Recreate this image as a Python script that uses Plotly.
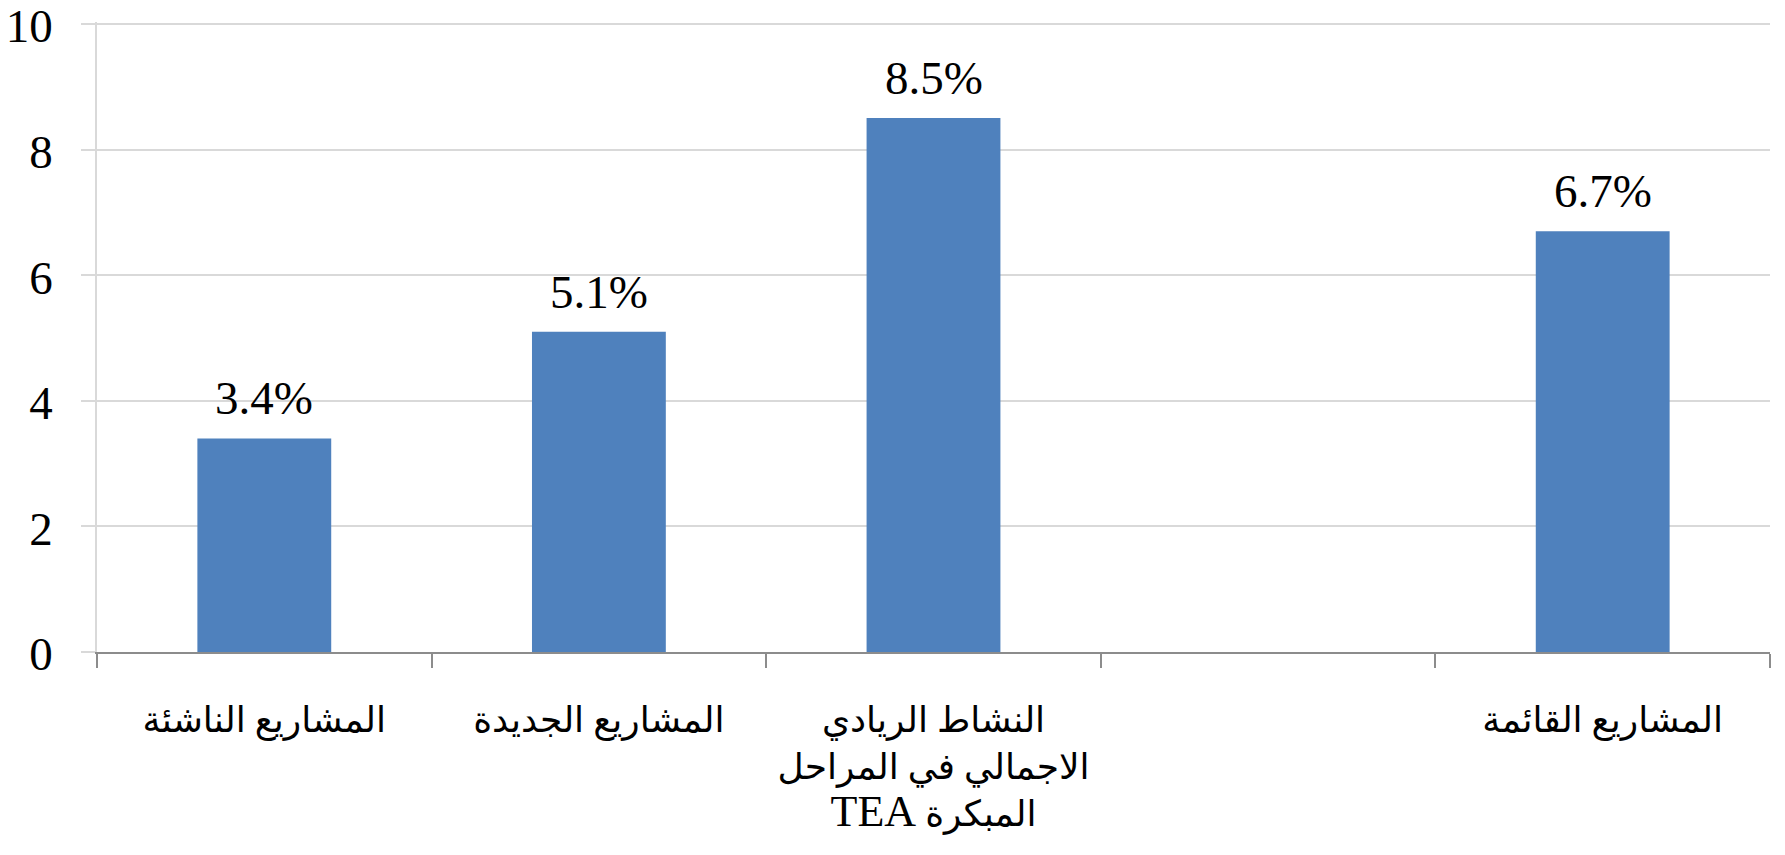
import plotly.graph_objects as go

categories = [
    "المشاريع الناشئة",
    "المشاريع الجديدة",
    "النشاط الريادي<br>الاجمالي في المراحل<br>\u202bالمبكرة <span style=\"font-size:44px\">TEA</span>",
    "المشاريع القائمة",
]
# slot of each category on the axis (slot 3 is an empty category)
positions = [0, 1, 2, 4]
n_slots = 5
values = [3.4, 5.1, 8.5, 6.7]
value_labels = ["3.4%", "5.1%", "8.5%", "6.7%"]
y_ticks = [0, 2, 4, 6, 8, 10]

FONT = "Liberation Serif, Times New Roman, DejaVu Sans, serif"

fig = go.Figure()
fig.add_trace(go.Bar(
    x=positions,
    y=values,
    marker=dict(color="#4f81bd", line=dict(width=0)),
    width=0.4,
))

for p, v, t in zip(positions, values, value_labels):
    fig.add_annotation(
        x=p, y=v, text=t, showarrow=False,
        yanchor="bottom", yshift=12,
        font=dict(family=FONT, size=47, color="black"),
    )

fig.update_layout(
    width=1777,
    height=847,
    paper_bgcolor="white",
    plot_bgcolor="white",
    margin=dict(l=89, r=15, t=14, b=203),
    showlegend=False,
    font=dict(family=FONT, color="black"),
)
fig.update_xaxes(
    range=[-0.5, n_slots - 0.5],
    tickvals=positions,
    ticktext=categories,
    ticks="",
    showline=True,
    linecolor="#8c8c8c",
    linewidth=1.5,
    showgrid=False,
    zeroline=False,
    tickangle=0,
    tickfont=dict(family=FONT, size=36, color="black"),
    ticklabelstandoff=35,
    minor=dict(
        tickvals=[i - 0.5 for i in range(n_slots + 1)],
        ticks="outside",
        ticklen=14,
        tickwidth=1.5,
        tickcolor="#8c8c8c",
        showgrid=False,
    ),
    automargin=False,
)
fig.update_yaxes(
    range=[0, 10.03],
    tickvals=y_ticks,
    showgrid=True,
    gridcolor="#d9d9d9",
    gridwidth=1.5,
    showline=True,
    linecolor="#d9d9d9",
    linewidth=1.5,
    ticks="outside",
    ticklen=14,
    tickcolor="#d9d9d9",
    tickwidth=1.5,
    zeroline=False,
    tickfont=dict(family=FONT, size=47, color="black"),
    ticklabelstandoff=19,
    ticklabelshift=2,
    ticklabeloverflow="allow",
    automargin=False,
)

fig.write_html("out.html")
